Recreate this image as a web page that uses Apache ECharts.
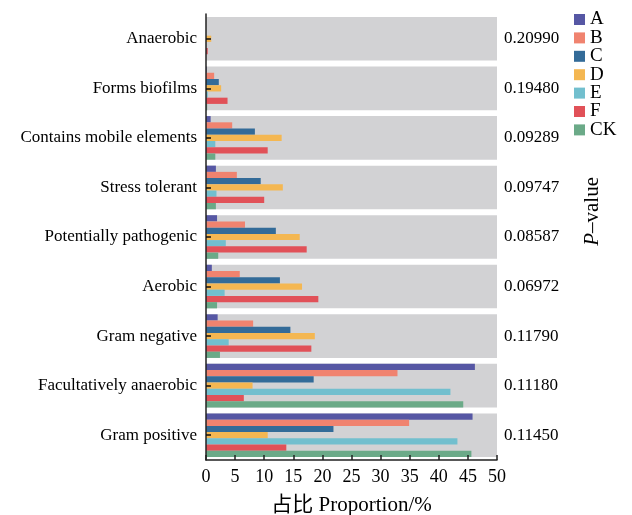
<!DOCTYPE html>
<html>
<head>
<meta charset="utf-8">
<script src="https://cdn.jsdelivr.net/npm/echarts@6/dist/echarts.min.js"></script>
<style>
  html, body { margin: 0; padding: 0; background: #fff; }
  #chart { width: 632px; height: 515px; }
</style>
</head>
<body>
<div id="chart"></div>
<script>
// Functional categories, top to bottom
const categories = [
  'Anaerobic', 'Forms biofilms', 'Contains mobile elements', 'Stress tolerant',
  'Potentially pathogenic', 'Aerobic', 'Gram negative', 'Facultatively anaerobic', 'Gram positive'
];
// P-value for each category (same order)
const pValues = ['0.20990', '0.19480', '0.09289', '0.09747', '0.08587', '0.06972', '0.11790', '0.11180', '0.11450'];

// Proportion (%) per group, same category order
const groupA  = [0.0, 0.1, 0.8, 1.7, 1.9, 1.0, 2.0, 46.2, 45.8];
const groupB  = [0.0, 1.4, 4.5, 5.3, 6.7, 5.8, 8.1, 32.9, 34.9];
const groupC  = [0.0, 2.2, 8.4, 9.4, 12.0, 12.7, 14.5, 18.5, 21.9];
const groupD  = [0.9, 2.6, 13.0, 13.2, 16.1, 16.5, 18.7, 8.0, 10.6];
const groupE  = [0.0, 0.3, 1.6, 1.8, 3.4, 3.2, 3.9, 42.0, 43.2];
const groupF  = [0.3, 3.7, 10.6, 10.0, 17.3, 19.3, 18.1, 6.5, 13.8];
const groupCK = [0.0, 0.2, 1.6, 1.7, 2.1, 1.9, 2.4, 44.2, 45.6];

const groupNames = ['A', 'B', 'C', 'D', 'E', 'F', 'CK'];
const groupData = [groupA, groupB, groupC, groupD, groupE, groupF, groupCK];
const groupColors = ['#5657A4', '#F0836F', '#336B98', '#F4B752', '#72BFCE', '#E15158', '#6BAA88'];

const xMax = 50;
const serif = '"Liberation Serif", "Times New Roman", "Noto Sans CJK SC", serif';

const chart = echarts.init(document.getElementById('chart'), null, { renderer: 'canvas' });

const series = [
  {
    // grey panel behind each category
    name: 'panel',
    type: 'bar',
    yAxisIndex: 1,
    data: categories.map(() => xMax),
    barCategoryGap: '12%',
    itemStyle: { color: '#D2D2D4' },
    silent: true,
    z: 1
  }
].concat(groupNames.map((name, i) => ({
  name: name,
  type: 'bar',
  yAxisIndex: 0,
  data: groupData[i],
  barGap: '0%',
  barCategoryGap: '12%',
  itemStyle: { color: groupColors[i] },
  z: 3
})));

chart.setOption({
  animation: false,
  textStyle: { fontFamily: serif },
  grid: { left: 206, right: 135, top: 14, bottom: 55, containLabel: false, outerBoundsMode: 'none' },
  legend: {
    data: groupNames,
    orient: 'vertical',
    left: 574,
    top: 10,
    padding: 0,
    itemWidth: 11,
    itemHeight: 11,
    itemGap: -0.6,
    icon: 'rect',
    textStyle: { fontFamily: serif, fontSize: 19, color: '#000', padding: [0, 0, 0, 0] }
  },
  xAxis: {
    type: 'value',
    min: 0,
    max: xMax,
    interval: 5,
    z: 10,
    name: '占比 Proportion/%',
    nameLocation: 'middle',
    nameGap: 35,
    nameTextStyle: { fontFamily: serif, fontSize: 21, color: '#000' },
    axisLine: { show: true, lineStyle: { color: '#222', width: 1.5 } },
    axisTick: { show: true, inside: true, length: 5, lineStyle: { color: '#222', width: 1.5 } },
    axisLabel: { fontFamily: serif, fontSize: 18, color: '#000', margin: 8 },
    splitLine: { show: false }
  },
  yAxis: [
    {
      type: 'category',
      data: categories,
      inverse: true,
      z: 10,
      axisLine: { show: true, lineStyle: { color: '#222', width: 1.5 } },
      axisTick: { show: true, inside: true, alignWithLabel: true, length: 5, lineStyle: { color: '#111', width: 1.5 } },
      axisLabel: { fontFamily: serif, fontSize: 17, color: '#000', margin: 9 },
      splitLine: { show: false }
    },
    {
      type: 'category',
      data: pValues,
      inverse: true,
      position: 'right',
      axisLine: { show: false },
      axisTick: { show: false },
      axisLabel: { fontFamily: serif, fontSize: 17, color: '#000', margin: 7 },
      splitLine: { show: false }
    }
  ],
  graphic: [
    {
      type: 'text',
      left: 582,
      top: 177,
      rotation: Math.PI / 2,
      style: {
        text: '{i|P}–value',
        rich: {
          i: { fontFamily: serif, fontSize: 21, fontStyle: 'italic', fill: '#000' }
        },
        font: '21px ' + serif,
        fill: '#000'
      }
    }
  ],
  series: series
});
</script>
</body>
</html>
